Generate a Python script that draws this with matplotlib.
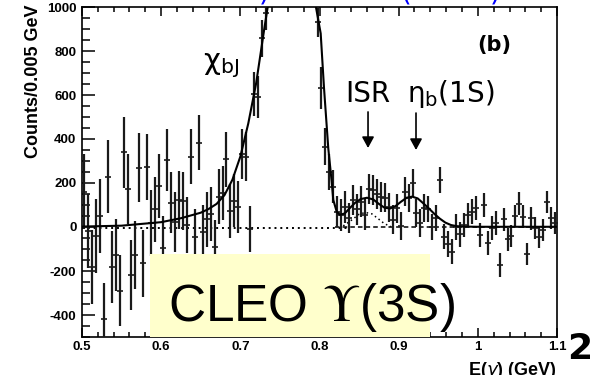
import numpy as np
import matplotlib
matplotlib.use("Agg")
import matplotlib.pyplot as plt
from matplotlib.patches import Rectangle
from matplotlib.ticker import MultipleLocator, FixedLocator, FixedFormatter

# histogram: 0.005 GeV bins from 0.5 to 1.1 GeV
bin_start = 0.5
bin_width = 0.005
counts = [
    160, -18, -180, -41, 50, -418, 229, -182, -127, -289,
    340, 172, -218, -127, 270, -164, 274, 18, 80, 188,
    -96, 305, 110, 24, 123, 118, 10, 320, -46, 383,
    -24, 35, 60, -92, 138, 154, 307, 74, 120, 92,
    332, 320, -10, 603, 590, 858, 973, 1300, 1800, 2400,
    3000, 3400, 3600, 3700, 3500, 3000, 2500, 1900, 1400, 933,
    632, 365, 250, 183, 70, 55, 92, 41, 123, 80,
    115, 55, 172, 168, 150, 138, 132, 90, 32, 86,
    5, 161, 130, 201, 64, 18, 86, 82, 0, 40,
    214, -44, -77, -112, 0, -33, 9, 55, 70, 85,
    -36, 100, -74, -6, 17, -173, 35, -56, -41, 50,
    105, 47, -123, 39, -6, -47, -14, 115, 39, 20,
]
errors = [
    170, 168, 168, 166, 166, 165, 165, 164, 163, 163,
    162, 160, 158, 156, 155, 152, 150, 150, 148, 146,
    144, 140, 138, 136, 132, 130, 128, 126, 126, 125,
    125, 124, 124, 124, 124, 123, 123, 122, 120, 118,
    115, 110, 105, 100, 95, 85, 78, 70, 70, 70,
    70, 70, 70, 70, 70, 70, 70, 70, 70, 68,
    95, 85, 80, 75, 72, 72, 72, 70, 70, 70,
    70, 70, 68, 68, 68, 68, 66, 66, 66, 66,
    65, 65, 64, 64, 62, 62, 62, 60, 60, 60,
    60, 58, 58, 58, 57, 56, 56, 56, 55, 55,
    55, 55, 54, 54, 54, 53, 53, 53, 52, 52,
    52, 52, 51, 51, 50, 50, 50, 50, 50, 50,
]

# fit curve
fit_e = [0.50, 0.55, 0.60, 0.625, 0.65, 0.66, 0.67, 0.68, 0.69, 0.70,
         0.71, 0.72, 0.73, 0.735, 0.745, 0.765, 0.785, 0.7955, 0.8015, 0.8057,
         0.8111, 0.8154, 0.8174, 0.8217, 0.826, 0.832, 0.838, 0.845, 0.852, 0.86,
         0.868, 0.875, 0.882, 0.889, 0.896, 0.903, 0.91, 0.917, 0.924, 0.931,
         0.938, 0.945, 0.952, 0.959, 0.966, 0.973, 0.98, 1.0, 1.1]
fit_val = [2, 6, 22, 40, 65, 82, 105, 145, 215, 320,
           470, 654, 895, 1010, 1600, 3500, 1800, 1000, 880, 632,
           357, 206, 123, 70, 55, 62, 85, 110, 127, 133,
           125, 105, 88, 84, 95, 115, 133, 138, 130, 108,
           85, 60, 38, 20, 9, 4, 2, 1, 1]

# background / components
bkg_e = [0.5, 0.835]
bkg_val = [-4, -4]
sig_base_e = [0.82, 1.1]
sig_base_val = [0, 0]
isr_e = [0.830, 0.840, 0.850, 0.858, 0.866, 0.874, 0.882, 0.890]
isr_val = [5, 30, 58, 66, 60, 38, 15, 2]

x_ticks = [0.5, 0.6, 0.7, 0.8, 0.9, 1.0, 1.1]
x_labels = ["0.5", "0.6", "0.7", "0.8", "0.9", "1", "1.1"]
y_ticks = [-400, -200, 0, 200, 400, 600, 800, 1000]
y_labels = ["-400", "-200", "0", "200", "400", "600", "800", "1000"]

W, H = 597, 375
fig = plt.figure(figsize=(W / 100, H / 100), dpi=100)
ax = fig.add_axes([82 / W, 1 - 337 / H, (557 - 82) / W, (337 - 7) / H])

e_centers = bin_start + bin_width * (np.arange(len(counts)) + 0.5)
ax.errorbar(e_centers, counts, yerr=errors, fmt="_", color="#1a1a1a",
            ms=4, mew=1.2, elinewidth=1.6, capsize=0, zorder=3)
ax.plot(fit_e, fit_val, color="black", lw=1.5, zorder=4)
ax.plot(bkg_e, bkg_val, color="black", lw=1.4, ls=(0, (1, 2)), zorder=2)
ax.plot(sig_base_e, sig_base_val, color="black", lw=1.1, ls=(0, (3, 2)), zorder=2)
ax.plot(isr_e, isr_val, color="black", lw=1.1, ls=(0, (1, 2)), zorder=2)

ax.set_xlim(0.5, 1.1)
ax.set_ylim(-500, 1000)
ax.xaxis.set_major_locator(FixedLocator(x_ticks))
ax.xaxis.set_major_formatter(FixedFormatter(x_labels))
ax.xaxis.set_minor_locator(MultipleLocator(0.02))
ax.yaxis.set_major_locator(FixedLocator(y_ticks))
ax.yaxis.set_major_formatter(FixedFormatter(y_labels))
ax.yaxis.set_minor_locator(MultipleLocator(50))

ax.tick_params(axis="both", which="both", direction="in", top=True, right=False, width=1.1)
ax.tick_params(axis="x", which="major", length=6.5, pad=3)
ax.tick_params(axis="x", which="minor", length=3.3)
ax.tick_params(axis="y", which="major", length=9.4, pad=4)
ax.tick_params(axis="y", which="minor", length=5.8)
for lab in ax.get_xticklabels() + ax.get_yticklabels():
    lab.set_fontfamily("Liberation Sans")
    lab.set_fontweight("bold")
    lab.set_fontsize(9.5)
for sp in ax.spines.values():
    sp.set_linewidth(1.2)

# labels in the plot
ax.text(0.6528, 718, r"$\mathregular{\chi_{bJ}}$", fontsize=21, family="DejaVu Sans")
ax.text(0.8322, 568, "ISR", fontsize=20, family="DejaVu Sans")
ax.text(0.9105, 568, r"$\mathregular{\eta_b}$(1S)", fontsize=20, family="DejaVu Sans")
ax.text(1.021, 825, "(b)", fontsize=15, fontweight="bold", family="DejaVu Sans",
        ha="center", va="center")
arrow_style = dict(arrowstyle="-|>,head_length=0.55,head_width=0.3", color="black",
                   lw=1.2, mutation_scale=12, shrinkA=0, shrinkB=0)
ax.annotate("", xy=(0.8613, 359), xytext=(0.8613, 523), arrowprops=arrow_style)
ax.annotate("", xy=(0.9219, 350), xytext=(0.9219, 518), arrowprops=arrow_style)

# axis titles
fig.text(34 / W, 1 - 5 / H, "Counts/0.005 GeV", rotation=90, ha="center", va="top",
         fontsize=13, fontweight="bold", family="Liberation Sans")
fig.text(557 / W, 1 - 360 / H, r"E($\gamma$) (GeV)", ha="right", va="top",
         fontsize=13, fontweight="bold", family="Liberation Sans")

# cut-off blue title at the top
for gx, ch in [(259, ")"), (401, "("), (490, ")")]:
    fig.text(gx / W, 1 - 7 / H, ch, color="blue", fontsize=20, va="bottom",
             family="DejaVu Sans")

# page number of the slide
fig.text(567 / W, 1 - 359 / H, "2", fontsize=26, fontweight="bold",
         family="Liberation Sans Narrow", va="baseline")

# CLEO box
box = Rectangle((150 / W, 1 - 337 / H), 280 / W, 83 / H, transform=fig.transFigure,
                facecolor="#FFFFCC", edgecolor="none", zorder=10)
fig.add_artist(box)
fig.text(168 / W, 1 - 321 / H, r"CLEO $\Upsilon$(3S)", fontsize=37, family="Liberation Sans",
         math_fontfamily="stix", va="baseline", zorder=11)

fig.savefig("out.png", dpi=100)
